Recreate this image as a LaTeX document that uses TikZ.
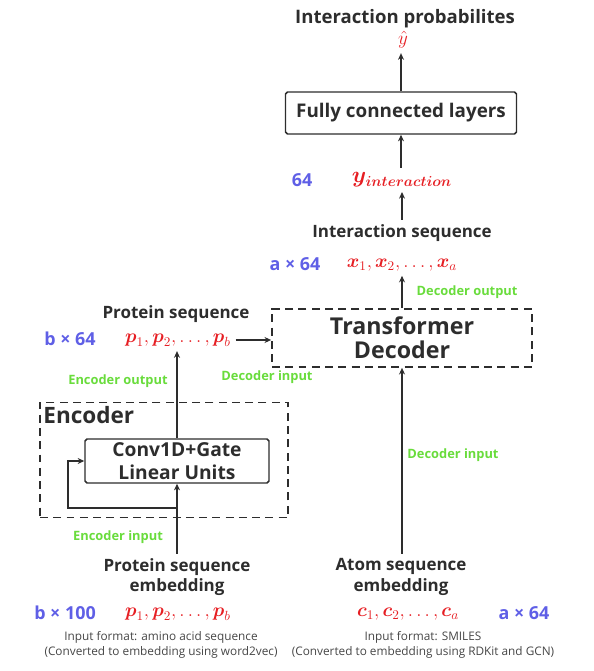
\documentclass[tikz,border=0pt]{standalone}
\usepackage{amsmath}
\usepackage{fontspec}
\setmainfont{Open Sans}
\usepackage{tikz}
\usetikzlibrary{arrows.meta, positioning, calc}
\definecolor{mydark}{RGB}{45,45,45}
\definecolor{myred}{RGB}{230,30,35}
\definecolor{myblue}{RGB}{95,95,230}
\definecolor{mygreen}{RGB}{105,220,60}
\definecolor{mygrey}{RGB}{70,70,70}
\tikzset{
  block/.style={rectangle, draw=mydark, text=mydark, align=center,
    font=\bfseries\fontsize{14.2}{16}\selectfont, rounded corners=1.5pt, line width=1.1pt},
  dashblock/.style={rectangle, draw=mydark, dashed, dash pattern=on 6pt off 4pt,
    line width=1.3pt},
  title/.style={text=mydark, font=\bfseries\fontsize{12.8}{15.5}\selectfont, align=center},
  seq/.style={text=myred, font=\fontsize{14.4}{17}\selectfont},
  dims/.style={text=myblue, font=\bfseries\fontsize{13.5}{16}\selectfont},
  tag/.style={text=mygreen, font=\bfseries\fontsize{9.7}{11}\selectfont},
  note/.style={text=mygrey, font=\fontsize{8.9}{11}\selectfont, align=center},
  arrow/.style={-{Stealth[length=5pt, width=4.5pt]}, line width=1pt, color=mydark},
  line/.style={line width=1pt, color=mydark}
}

\begin{document}
\begin{tikzpicture}[x=0.0265cm, y=-0.0265cm]
  \useasboundingbox (0,0) rectangle (594,671);

  % output side
  \node[title, font=\bfseries\fontsize{14}{16}\selectfont] (prob) at (405,19) {Interaction probabilites};
  \node[text=myred, font=\fontsize{14.4}{17}\selectfont] (yhat) at (403,40) {$\hat{y}$};
  \node[block, minimum width=231*0.0265cm, minimum height=42*0.0265cm] (fc) at (401,113) {Fully connected layers};
  \node[seq, font=\fontsize{16}{19}\selectfont] (yint) at (402,180) {$\boldsymbol{y_{interaction}}$};
  \node[dims] (d64) at (302,180) {64};
  \node[title] (intseq) at (402,233) {Interaction sequence};
  \node[seq] (xs) at (402,265) {$\boldsymbol{x}_1,\boldsymbol{x}_2,\dots,\boldsymbol{x}_a$};
  \node[dims] (da64) at (295,264) {a × 64};

  % decoder
  \node[dashblock, minimum width=260*0.0265cm, minimum height=58*0.0265cm] (dec) at (402,338) {};
  \node[text=mydark, font=\bfseries\fontsize{17.5}{20}\selectfont, align=center] (declab) at (dec) {Transformer\\[-2pt]Decoder};
  \node[tag, anchor=west] (decout) at (412,292) {Decoder output};
  \node[tag] (decin1) at (267,377) {Decoder input};
  \node[tag] (decin2) at (453,455) {Decoder input};

  % protein sequence
  \node[title] (protseq) at (176,314) {Protein sequence};
  \node[seq] (ps) at (178,340) {$\boldsymbol{p}_1,\boldsymbol{p}_2,\dots,\boldsymbol{p}_b$};
  \node[dims] (db64) at (70,339) {b × 64};
  \node[tag] (encout) at (118,381) {Encoder output};

  % encoder
  \node[dashblock, minimum width=248*0.0265cm, minimum height=115*0.0265cm] (enc) at (164,460) {};
  \node[text=mydark, font=\bfseries\fontsize{17}{20}\selectfont, anchor=north west, inner sep=3pt] (enclab) at (enc.north west) {Encoder};
  \node[block, font=\bfseries\fontsize{14.5}{17}\selectfont, inner sep=1pt, minimum width=184*0.0265cm, minimum height=44*0.0265cm] (conv) at (177,461) {Conv1D+Gate\\Linear Units};
  \coordinate (loop) at (177,508);
  \node[tag] (encin) at (118,537) {Encoder input};

  % inputs
  \node[title] (pemb) at (177,577) {Protein sequence\\embedding};
  \node[title] (aemb) at (401,577) {Atom sequence\\embedding};
  \node[dims] (db100) at (65,613) {b × 100};
  \node[seq] (pin) at (178,614) {$\boldsymbol{p}_1,\boldsymbol{p}_2,\dots,\boldsymbol{p}_b$};
  \node[seq] (cin) at (408,614) {$\boldsymbol{c}_1,\boldsymbol{c}_2,\dots,\boldsymbol{c}_a$};
  \node[dims] (dca64) at (524,613) {a × 64};
  \node[note] (pnote) at (161,645) {Input format: amino acid sequence\\(Converted to embedding using word2vec)};
  \node[note] (anote) at (423,645) {Input format: SMILES\\(Converted to embedding using RDKit and GCN)};

  % connectors
  \draw[arrow] (fc.north) -- (fc.north |- yhat.south);
  \draw[arrow] (fc.south |- yint.north) -- (fc.south);
  \draw[arrow] (intseq.north) -- (yint.south);
  \draw[arrow] (dec.north) -- (xs.south);
  \draw[arrow] (ps.east) -- (ps.east -| dec.west);
  \draw[arrow] (conv.north) -- (conv.north |- ps.south);
  \draw[arrow] (pemb.north) -- (conv.south);
  \draw[arrow] (loop) -- ++(-109,0) |- (conv.west);
  \draw[arrow] (aemb.north -| dec.south) -- (dec.south);
\end{tikzpicture}
\end{document}
